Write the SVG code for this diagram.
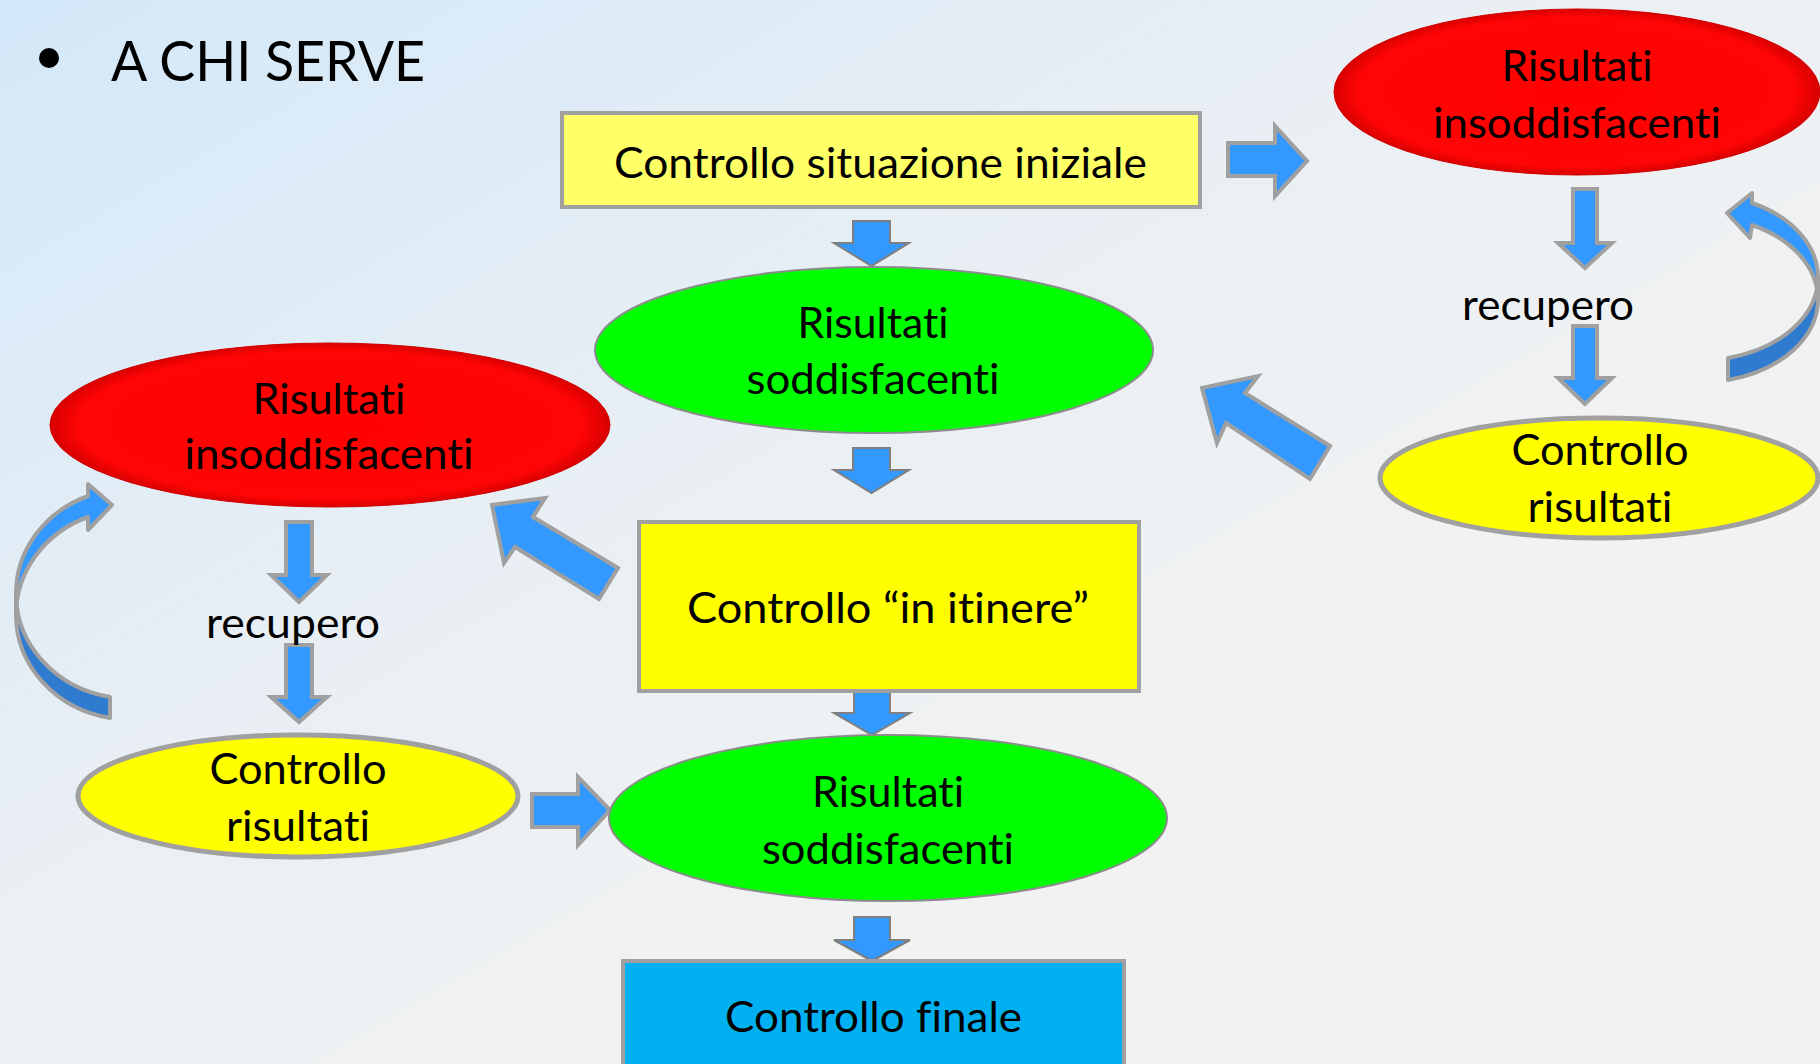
<svg xmlns="http://www.w3.org/2000/svg" width="1820" height="1064" viewBox="0 0 1820 1064">
<defs>
<linearGradient id="bg" x1="0" y1="0" x2="1" y2="1">
<stop offset="0" stop-color="#D3E8F9"/>
<stop offset="0.4" stop-color="#E9EFF4"/>
<stop offset="0.7" stop-color="#F2F2F2"/>
<stop offset="1" stop-color="#F2F2F2"/>
</linearGradient>
<radialGradient id="red" cx="0.5" cy="0.5" r="0.5">
<stop offset="0" stop-color="#FF0000"/>
<stop offset="0.9" stop-color="#FF0505"/>
<stop offset="1" stop-color="#D80000"/>
</radialGradient>
<style>
.t{font-family:Lato,"Liberation Sans",sans-serif;font-size:42px;fill:#000;text-anchor:middle;font-variant-ligatures:none;font-feature-settings:"liga" 0,"clig" 0,"dlig" 0}
.title{font-family:Lato,"Liberation Sans",sans-serif;font-size:56px;fill:#000;font-variant-ligatures:none}
.box{stroke:#A0A0A0;stroke-width:4}
.yel{fill:#FFFF00;stroke:#A0A0A0;stroke-width:5}
.grn{fill:#00FF00;stroke:#8C8C8C;stroke-width:2}
.red{fill:url(#red);stroke:#D00000;stroke-width:1}
.arr{fill:#3399FF;stroke:#A0A0A0;stroke-width:4;stroke-linejoin:miter}
.arrs{fill:#3399FF;stroke:#7F7F7F;stroke-width:2}
.dark{fill:#2E7BCF;stroke:#A0A0A0;stroke-width:4;stroke-linejoin:round}
.light{fill:#3399FF;stroke:#A0A0A0;stroke-width:4;stroke-linejoin:round}
</style>
</defs>
<rect x="0" y="0" width="1820" height="1064" fill="url(#bg)"/>

<g id="title">
<circle cx="49" cy="58" r="10" fill="#000"/>
<text class="title" x="111" y="81" textLength="314" lengthAdjust="spacingAndGlyphs">A CHI SERVE</text>
</g>

<g id="connectors">
<polygon class="arrs" points="853,221 890,221 890,243 909,243 871.5,266 834,243 853,243"/>
<polygon class="arrs" points="853,448 890,448 890,470 909,470 871.5,493 834,470 853,470"/>
<polygon class="arrs" points="854,690 890,690 890,713 910,713 872,735 834,713 854,713"/>
<polygon class="arrs" points="854,917 890,917 890,940 910,940 872,961 834,940 854,940"/>
<polygon class="arr" points="1228,143 1275,143 1275,126 1307,161 1275,196 1275,176 1228,176"/>
<polygon class="arr" points="532,794 578,794 578,777 610,810 578,845 578,827 532,827"/>
<polygon class="arr" points="1573,189 1597,189 1597,243 1612,243 1585,268 1558,243 1573,243"/>
<polygon class="arr" points="1573,326 1597,326 1597,378 1612,378 1585,404 1558,378 1573,378"/>
<polygon class="arr" points="286,522 312,522 312,575 327,575 299,602 271,575 286,575"/>
<polygon class="arr" points="286,645 312,645 312,697 327,697 299,722 271,697 286,697"/>
<polygon class="arr" points="1202,388 1258,376 1245,393 1330,446 1310,479 1226,423 1217,443"/>
<polygon class="arr" points="492,505 545,498 533,517 618,568 599,599 515,547 504,563"/>
<path class="dark" d="M16,594 A114,105 0 0 0 110,697 L110,718 A114,105 0 0 1 16,615 Z"/>
<path class="light" d="M88,496 A114,105 0 0 0 16,594 L16,615 A114,105 0 0 1 88,517 L88,530 L112,505 L88,484 Z"/>
<path class="dark" d="M1818,277 A118,83 0 0 1 1728,358 L1728,380 A118,83 0 0 0 1818,299 Z"/>
<path class="light" d="M1752,203 A118,83 0 0 1 1818,277 L1818,299 A118,83 0 0 0 1752,225 L1750,238 L1727,213 L1752,193 Z"/>
</g>

<g id="n-iniziale">
<rect class="box" x="562" y="113" width="638" height="94" fill="#FFFF66"/>
<text class="t" x="880.5" y="178" textLength="533" lengthAdjust="spacingAndGlyphs">Controllo situazione iniziale</text>
</g>

<g id="n-sodd1">
<ellipse class="grn" cx="874" cy="350" rx="279" ry="83"/>
<text class="t" x="873" y="338" textLength="151" lengthAdjust="spacingAndGlyphs">Risultati</text>
<text class="t" x="873" y="394" textLength="253" lengthAdjust="spacingAndGlyphs">soddisfacenti</text>
</g>

<g id="n-insodd-right">
<ellipse class="red" cx="1577" cy="92" rx="243" ry="83"/>
<text class="t" x="1577" y="81" textLength="151" lengthAdjust="spacingAndGlyphs">Risultati</text>
<text class="t" x="1577" y="138" textLength="288" lengthAdjust="spacingAndGlyphs">insoddisfacenti</text>
</g>

<g id="n-recupero-right">
<text class="t" x="1548" y="320" textLength="172" lengthAdjust="spacingAndGlyphs">recupero</text>
</g>

<g id="n-controllo-right">
<ellipse class="yel" cx="1599" cy="478" rx="219" ry="60"/>
<text class="t" x="1600" y="465" textLength="177" lengthAdjust="spacingAndGlyphs">Controllo</text>
<text class="t" x="1600" y="522" textLength="145" lengthAdjust="spacingAndGlyphs">risultati</text>
</g>

<g id="n-insodd-left">
<ellipse class="red" cx="330" cy="425" rx="280" ry="82"/>
<text class="t" x="329" y="414" textLength="153" lengthAdjust="spacingAndGlyphs">Risultati</text>
<text class="t" x="329" y="469" textLength="289" lengthAdjust="spacingAndGlyphs">insoddisfacenti</text>
</g>

<g id="n-recupero-left">
<text class="t" x="293" y="638" textLength="174" lengthAdjust="spacingAndGlyphs">recupero</text>
</g>

<g id="n-controllo-left">
<ellipse class="yel" cx="298" cy="796" rx="220" ry="61"/>
<text class="t" x="298" y="784" textLength="177" lengthAdjust="spacingAndGlyphs">Controllo</text>
<text class="t" x="298" y="841" textLength="144" lengthAdjust="spacingAndGlyphs">risultati</text>
</g>

<g id="n-itinere">
<rect class="box" x="639" y="522" width="500" height="169" fill="#FFFF00"/>
<text class="t" x="888" y="623" textLength="402" lengthAdjust="spacingAndGlyphs">Controllo “in itinere”</text>
</g>

<g id="n-sodd2">
<ellipse class="grn" cx="888" cy="818" rx="279" ry="83"/>
<text class="t" x="888" y="807" textLength="152" lengthAdjust="spacingAndGlyphs">Risultati</text>
<text class="t" x="888" y="864" textLength="252" lengthAdjust="spacingAndGlyphs">soddisfacenti</text>
</g>

<g id="n-finale">
<rect class="box" x="623" y="961" width="501" height="120" fill="#00B0F0"/>
<text class="t" x="873.5" y="1032" textLength="297" lengthAdjust="spacingAndGlyphs">Controllo finale</text>
</g>
</svg>
